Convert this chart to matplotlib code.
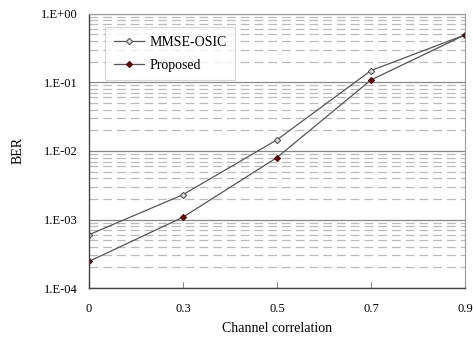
import numpy as np
import matplotlib.pyplot as plt
from matplotlib.ticker import LogLocator, FixedLocator

plt.rcParams['font.family'] = ['Liberation Serif', 'DejaVu Serif']

# data
corr_labels = ["0", "0.3", "0.5", "0.7", "0.9"]
ber_mmse = [6.0e-4, 2.3e-3, 1.45e-2, 0.148, 0.49]
ber_proposed = [2.45e-4, 1.08e-3, 8.0e-3, 0.108, 0.49]

x = np.arange(len(corr_labels))

fig = plt.figure(figsize=(4.73, 3.41), dpi=100)
ax = fig.add_axes([0.188, 0.155, 0.795, 0.805])

ax.plot(x, ber_mmse, color="#555555", linewidth=0.9, marker="D", ms=3.2,
        markerfacecolor="#dddddd", markeredgecolor="#555555", markeredgewidth=0.8,
        label="MMSE-OSIC")
ax.plot(x, ber_proposed, color="#555555", linewidth=0.9, marker="D", ms=3.2,
        markerfacecolor="#7a0000", markeredgecolor="#3a0000", markeredgewidth=0.6,
        label="Proposed")

ax.set_yscale("log")
ax.set_ylim(1e-4, 1)
ax.set_xlim(0, len(corr_labels) - 1)

# gridlines: solid at decades, dashed in between
ax.yaxis.set_major_locator(FixedLocator([1e-4, 1e-3, 1e-2, 1e-1, 1]))
ax.yaxis.set_minor_locator(LogLocator(base=10, subs=np.arange(2, 10)))
ax.yaxis.set_minor_formatter(plt.NullFormatter())
ax.set_yticklabels(["1.E-04", "1.E-03", "1.E-02", "1.E-01", "1.E+00"])
ax.grid(which="major", axis="y", color="#888888", linewidth=0.9, linestyle="-")
ax.grid(which="minor", axis="y", color="#bbbbbb", linewidth=0.9, linestyle=(0, (7, 4)))
ax.tick_params(axis="y", which="both", length=0, labelsize=9, pad=8)

ax.set_xticks(x)
ax.set_xticklabels(corr_labels)
ax.tick_params(axis="x", direction="in", length=4, color="#888888", labelsize=9, pad=11)

for s in ["top", "right"]:
    ax.spines[s].set_color("#999999")
for s in ["left", "bottom"]:
    ax.spines[s].set_color("#444444")
    ax.spines[s].set_linewidth(1.0)

ax.set_xlabel("Channel correlation", fontsize=10, labelpad=5)
ax.set_ylabel("BER", fontsize=10, labelpad=12)

leg = ax.legend(loc="upper left", bbox_to_anchor=(0.025, 0.975), fontsize=10,
                frameon=True, fancybox=False, edgecolor="#cccccc",
                handlelength=2.2, borderpad=0.6, labelspacing=0.7, handletextpad=0.4)
leg.get_frame().set_linewidth(0.8)

plt.savefig("out.png", dpi=100)
